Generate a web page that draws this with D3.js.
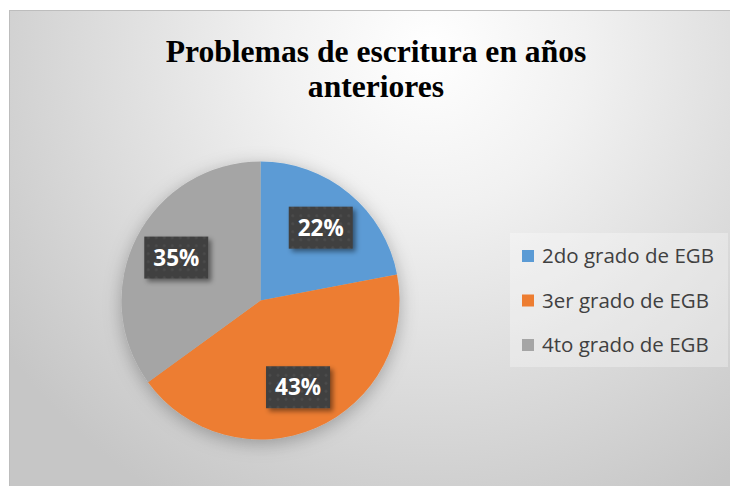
<!DOCTYPE html>
<html>
<head>
<meta charset="utf-8">
<script src="https://cdn.jsdelivr.net/npm/d3@7"></script>
<style>
  body { margin: 0; background: #fff; }
  svg { display: block; }
</style>
</head>
<body>
<div id="chart"></div>
<script>
const categories = ["2do grado de EGB", "3er grado de EGB", "4to grado de EGB"];
const values = [22, 43, 35];
const colors = ["#5B9BD5", "#ED7D31", "#A5A5A5"];
const titleLines = ["Problemas de escritura en años", "anteriores"];

const width = 730, height = 486;
const cx = 260.5, cy = 300.5, radius = 139;

const svg = d3.select("#chart").append("svg")
  .attr("width", width)
  .attr("height", height);

const defs = svg.append("defs");

const bg = defs.append("radialGradient")
  .attr("id", "bg")
  .attr("gradientUnits", "userSpaceOnUse")
  .attr("cx", 430).attr("cy", 50).attr("r", 520);
bg.append("stop").attr("offset", 0).attr("stop-color", "#ffffff");
bg.append("stop").attr("offset", 0.3).attr("stop-color", "#f1f1f1");
bg.append("stop").attr("offset", 1).attr("stop-color", "#c6c6c6");

const pieShadow = defs.append("filter").attr("id", "pieShadow")
  .attr("x", "-30%").attr("y", "-30%").attr("width", "160%").attr("height", "160%");
pieShadow.append("feDropShadow")
  .attr("dx", 0).attr("dy", 4).attr("stdDeviation", 9)
  .attr("flood-color", "#000").attr("flood-opacity", 0.28);

const boxShadow = defs.append("filter").attr("id", "boxShadow")
  .attr("x", "-30%").attr("y", "-30%").attr("width", "160%").attr("height", "160%");
boxShadow.append("feDropShadow")
  .attr("dx", 3).attr("dy", 3).attr("stdDeviation", 2.5)
  .attr("flood-color", "#000").attr("flood-opacity", 0.45);

const dots = defs.append("pattern")
  .attr("id", "dots")
  .attr("patternUnits", "userSpaceOnUse")
  .attr("width", 8).attr("height", 8);
dots.append("rect").attr("width", 8).attr("height", 8).attr("fill", "#3f3f3f");
dots.append("circle").attr("cx", 4).attr("cy", 4).attr("r", 1.6).attr("fill", "#4c4c4c");

// chart area
svg.append("rect")
  .attr("x", 9.5).attr("y", 10.5)
  .attr("width", width).attr("height", height)
  .attr("fill", "url(#bg)")
  .attr("stroke", "#bdbdbd");

// title
svg.append("text")
  .attr("text-anchor", "middle")
  .attr("font-family", "'Liberation Serif', 'Times New Roman', serif")
  .attr("font-weight", "bold")
  .attr("font-size", 31.6)
  .attr("fill", "#000")
  .selectAll("tspan")
  .data(titleLines)
  .join("tspan")
    .attr("x", 376)
    .attr("y", (d, i) => 62 + i * 35)
    .text(d => d);

// pie
const data = categories.map((c, i) => ({ name: c, value: values[i], color: colors[i] }));
const pie = d3.pie().value(d => d.value).sort(null);
const arc = d3.arc().innerRadius(0).outerRadius(radius);
const labelArc = d3.arc().innerRadius(radius * 0.68).outerRadius(radius * 0.68);
const total = d3.sum(values);

const g = svg.append("g").attr("transform", `translate(${cx},${cy})`);

g.append("g")
  .attr("filter", "url(#pieShadow)")
  .selectAll("path")
  .data(pie(data))
  .join("path")
    .attr("d", arc)
    .attr("fill", d => d.data.color);

const labels = g.selectAll("g.lbl")
  .data(pie(data))
  .join("g")
    .attr("class", "lbl")
    .attr("transform", d => `translate(${labelArc.centroid(d)})`);

labels.append("rect")
  .attr("x", -32).attr("y", -21)
  .attr("width", 64).attr("height", 42)
  .attr("fill", "url(#dots)")
  .attr("filter", "url(#boxShadow)");

labels.append("text")
  .attr("text-anchor", "middle")
  .attr("dy", "0.36em")
  .attr("font-family", "'Open Sans', sans-serif")
  .attr("font-weight", "bold")
  .attr("font-size", 22.5)
  .attr("fill", "#fff")
  .text(d => Math.round(d.data.value / total * 100) + "%");

// legend
const legend = svg.append("g");
legend.append("rect")
  .attr("x", 510).attr("y", 233)
  .attr("width", 218).attr("height", 134)
  .attr("fill", "#ffffff").attr("fill-opacity", 0.3);

const rows = legend.selectAll("g.row")
  .data(data)
  .join("g")
    .attr("class", "row")
    .attr("transform", (d, i) => `translate(522,${263 + i * 44.5})`);

rows.append("rect")
  .attr("x", 0).attr("y", -13)
  .attr("width", 12).attr("height", 12)
  .attr("fill", d => d.color);

rows.append("text")
  .attr("x", 20)
  .attr("font-family", "'Open Sans', sans-serif")
  .attr("font-size", 20.5)
  .attr("fill", "#404040")
  .text(d => d.name);
</script>
</body>
</html>
